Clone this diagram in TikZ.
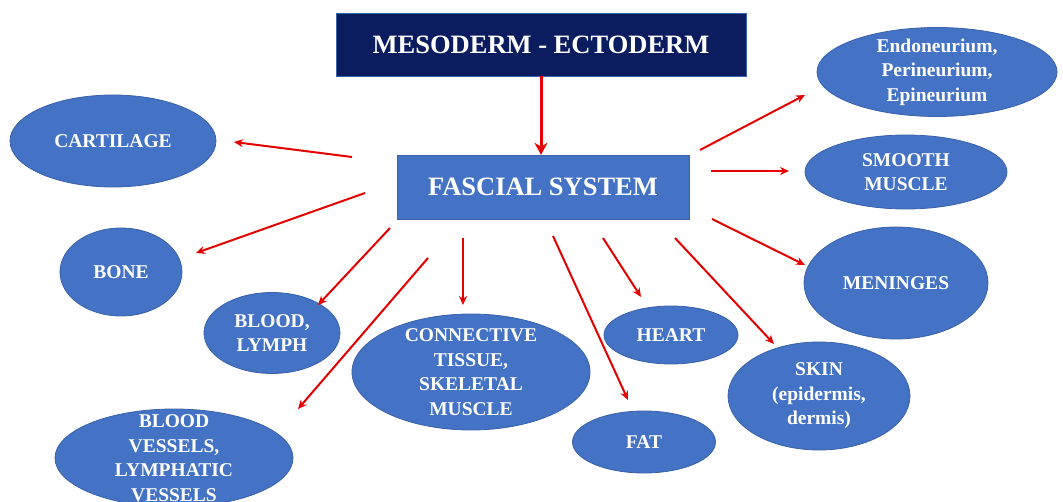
\documentclass[tikz,border=0pt]{standalone}
\usepackage{fontspec}
\setmainfont{Liberation Serif}
\usetikzlibrary{shapes.geometric,arrows.meta}
\definecolor{navy}{HTML}{0B1D5E}
\definecolor{cblue}{HTML}{4472C4}
\definecolor{cedge}{HTML}{3A62AA}
\definecolor{cred}{HTML}{E50000}
\tikzset{
  topbox/.style={draw=cedge, fill=navy, text=white, minimum width=410pt, minimum height=63pt, inner sep=0pt,
    font=\fontsize{26.5}{30}\selectfont\bfseries},
  midbox/.style={draw=cedge, fill=cblue, text=white, minimum width=292pt, minimum height=64pt, inner sep=0pt,
    font=\fontsize{26.5}{30}\selectfont\bfseries},
  oval/.style={ellipse, draw=cedge, line width=0.8pt, fill=cblue, inner sep=0pt},
  lbl/.style={text=white, align=center, inner sep=0pt, font=\fontsize{19.5}{24.5}\selectfont\bfseries},
  redarrow/.style={draw=cred, line width=2pt, -{Stealth[length=9pt,width=8pt]}},
}
\begin{document}
\begin{tikzpicture}[x=1pt,y=-1pt]
\useasboundingbox[fill=white] (0,0) rectangle (1063,502);

\node[topbox] (meso) at (541,44.5) {MESODERM - ECTODERM};
\node[midbox] (fas) at (543,187) {FASCIAL SYSTEM};

\node[oval, minimum width=240pt, minimum height=89pt, label={[lbl]center:{Endoneurium,\\Perineurium,\\Epineurium}}] (endo) at (937,72) {};
\node[oval, minimum width=202pt, minimum height=74pt, label={[lbl]center:{SMOOTH\\MUSCLE}}] (smooth) at (906,172) {};
\node[oval, minimum width=184pt, minimum height=112pt, label={[lbl]center:{MENINGES}}] (men) at (896,283) {};
\node[oval, minimum width=182pt, minimum height=108pt, label={[lbl]center:{SKIN\\(epidermis,\\dermis)}}] (skin) at (819,396) {};
\node[oval, minimum width=134pt, minimum height=58pt, label={[lbl]center:{HEART}}] (heart) at (671,335) {};
\node[oval, minimum width=143pt, minimum height=62pt, label={[lbl]center:{FAT}}] (fat) at (644,442) {};
\node[oval, minimum width=238pt, minimum height=116pt, label={[lbl]center:{CONNECTIVE\\TISSUE,\\SKELETAL\\MUSCLE}}] (conn) at (471,372) {};
\node[oval, minimum width=136pt, minimum height=81pt, label={[lbl]center:{BLOOD,\\LYMPH}}] (blood) at (272,333) {};
\node[oval, minimum width=122pt, minimum height=88pt, label={[lbl]center:{BONE}}] (bone) at (121,272) {};
\node[oval, minimum width=206pt, minimum height=92pt, label={[lbl]center:{CARTILAGE}}] (cart) at (113,141) {};
\node[oval, minimum width=238pt, minimum height=98pt, label={[lbl]center:{BLOOD\\VESSELS,\\LYMPHATIC\\VESSELS}}] (vess) at (174,458) {};

% arrow end points
\coordinate (sCart) at (352,157); \coordinate (tCart) at (234,142);
\coordinate (sBone) at (365,193); \coordinate (tBone) at (196,253);
\coordinate (sBlood) at (390,228); \coordinate (tBlood) at (318,305);
\coordinate (sVess) at (428,258); \coordinate (tVess) at (298,409);
\coordinate (sConn) at (463,238); \coordinate (tConn) at (463,305);
\coordinate (sFat) at (553,236); \coordinate (tFat) at (628,400);
\coordinate (sHeart) at (603,238); \coordinate (tHeart) at (641,297);
\coordinate (sSkin) at (675,238); \coordinate (tSkin) at (774,344);
\coordinate (sMen) at (712,219); \coordinate (tMen) at (805,265);
\coordinate (sSmooth) at (711,171); \coordinate (tSmooth) at (789,171);
\coordinate (sEndo) at (700,150); \coordinate (tEndo) at (805,95);

\draw[redarrow, line width=3pt, -{Stealth[length=12pt,width=13pt]}] (meso.south -| 541,0) -- (fas.north -| 541,0);
\draw[redarrow] (sCart) -- (tCart);
\draw[redarrow] (sBone) -- (tBone);
\draw[redarrow] (sBlood) -- (tBlood);
\draw[redarrow] (sVess) -- (tVess);
\draw[redarrow] (sConn) -- (tConn);
\draw[redarrow] (sFat) -- (tFat);
\draw[redarrow] (sHeart) -- (tHeart);
\draw[redarrow] (sSkin) -- (tSkin);
\draw[redarrow] (sMen) -- (tMen);
\draw[redarrow] (sSmooth) -- (tSmooth);
\draw[redarrow] (sEndo) -- (tEndo);
\end{tikzpicture}
\end{document}
